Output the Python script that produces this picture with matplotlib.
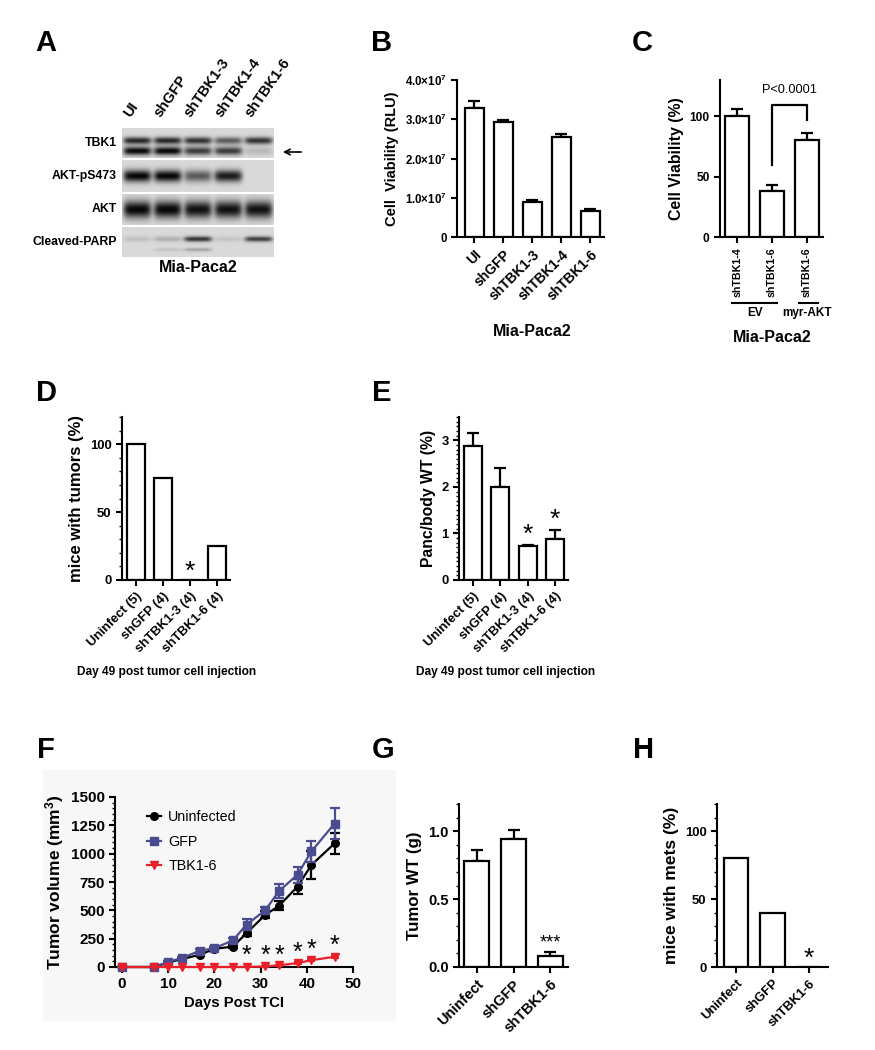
import numpy as np
import matplotlib
matplotlib.use('Agg')
import matplotlib.pyplot as plt
from matplotlib.ticker import MultipleLocator
from matplotlib.patches import Rectangle
from matplotlib.lines import Line2D

plt.rcParams['font.family'] = ['Liberation Sans', 'DejaVu Sans']
plt.rcParams['mathtext.fontset'] = 'custom'
plt.rcParams['mathtext.rm'] = 'Liberation Sans:bold'
plt.rcParams['mathtext.bf'] = 'Liberation Sans:bold'
plt.rcParams['mathtext.it'] = 'Liberation Sans:bold'
plt.rcParams['mathtext.default'] = 'rm'

# ---- A: western blot (band intensities per lane) ----
lanes = ['UI', 'shGFP', 'shTBK1-3', 'shTBK1-4', 'shTBK1-6']
blot_rows = ['TBK1', 'AKT-pS473', 'AKT', 'Cleaved-PARP']
tbk1_upper = [0.85, 0.85, 0.8, 0.6, 0.8]
tbk1_lower = [1.0, 1.0, 0.75, 0.75, 0.15]
akt_ps473 = [1.0, 1.0, 0.6, 0.9, 0.0]
akt_total = [1.0, 1.0, 0.95, 0.95, 0.95]
parp_upper = [0.12, 0.2, 0.8, 0.1, 0.75]
parp_lower = [0.0, 0.1, 0.25, 0.0, 0.0]

# ---- B ----
b_labels = ['UI', 'shGFP', 'shTBK1-3', 'shTBK1-4', 'shTBK1-6']
b_vals = [3.28e7, 2.92e7, 0.88e7, 2.56e7, 0.66e7]
b_err = [0.18e7, 0.07e7, 0.07e7, 0.07e7, 0.05e7]

# ---- C ----
c_labels = ['shTBK1-4', 'shTBK1-6', 'shTBK1-6']
c_vals = [100, 38, 80]
c_err = [6, 5, 6]

# ---- D / E ----
de_labels = ['Uninfect (5)', 'shGFP (4)', 'shTBK1-3 (4)', 'shTBK1-6 (4)']
d_vals = [100, 75, 0, 25]
e_vals = [2.88, 2.0, 0.73, 0.88]
e_err = [0.28, 0.4, 0.03, 0.2]

# ---- F ----
f_days = [0, 7, 10, 13, 17, 20, 24, 27, 31, 34, 38, 41, 46]
f_uninf = [0, 0, 40, 70, 110, 160, 180, 300, 460, 540, 710, 900, 1090]
f_uninf_err = [0, 0, 10, 10, 15, 15, 15, 30, 30, 40, 70, 120, 90]
f_gfp = [0, 0, 45, 80, 145, 165, 235, 375, 500, 670, 815, 1020, 1265]
f_gfp_err = [0, 0, 10, 10, 15, 15, 20, 50, 30, 60, 70, 90, 135]
f_tbk = [0, 0, 0, 0, 0, 0, 0, 0, 5, 15, 35, 60, 90]
f_tbk_err = [0, 0, 0, 0, 0, 0, 0, 0, 3, 5, 8, 10, 12]
f_star_days = [27, 31, 34, 38, 41, 46]
f_star_y = [95, 95, 95, 125, 155, 190]

# ---- G / H ----
gh_labels = ['Uninfect', 'shGFP', 'shTBK1-6']
g_vals = [0.78, 0.94, 0.08]
g_err = [0.08, 0.07, 0.03]
h_vals = [80, 40, 0]

W, H = 875, 1050
fig = plt.figure(figsize=(8.75, 10.5), dpi=100)


def px_axes(l, t, r, b):
    return fig.add_axes([l / W, 1 - b / H, (r - l) / W, (b - t) / H])


def ftext(x, y, s, **kw):
    fig.text(x / W, 1 - y / H, s, **kw)


def style(ax, tick_fs=9):
    for s in ['top', 'right']:
        ax.spines[s].set_visible(False)
    for s in ['left', 'bottom']:
        ax.spines[s].set_linewidth(1.5)
    ax.tick_params(direction='out', width=1.5, length=4, labelsize=tick_fs)
    ax.tick_params(which='minor', direction='out', width=1.0, length=2.5)
    for t in ax.get_yticklabels() + ax.get_xticklabels():
        t.set_fontweight('bold')


def bars(ax, vals, err=None, width=0.66):
    x = np.arange(len(vals))
    ax.bar(x, vals, width, color='white', edgecolor='black', linewidth=1.6, zorder=2)
    if err is not None:
        ax.errorbar(x, vals, yerr=[np.zeros(len(vals)), err], fmt='none', ecolor='black',
                    elinewidth=1.6, capsize=4, capthick=1.6, zorder=1)
    return x


# faint backdrop behind panel F
fig.patches.append(Rectangle((43 / W, 1 - 1020 / H), (395 - 43) / W, (1020 - 770) / H,
                             transform=fig.transFigure, color='#f7f7f7', zorder=-10))

# panel letters
for letter, (lx, ly) in zip('ABCDEFGH', [(46, 43), (382, 43), (642, 43), (46, 393),
                                        (382, 393), (46, 750), (383, 750), (644, 750)]):
    ftext(lx, ly, letter, fontsize=21, fontweight='bold', ha='center', va='center')

# ================= A =================
axA = px_axes(0, 0, W, H)
axA.set_xlim(0, W)
axA.set_ylim(H, 0)
axA.axis('off')
bx0, bx1 = 122, 274
row_ext = [(128, 158), (160, 192), (194, 225), (227, 257)]
row_bands = [
    [(0.42, 0.12, tbk1_upper), (0.77, 0.14, tbk1_lower)],
    [(0.50, 0.19, akt_ps473)],
    [(0.50, 0.28, akt_total)],
    [(0.40, 0.09, parp_upper), (0.76, 0.06, parp_lower)],
]
for (y0, y1), bands, name in zip(row_ext, row_bands, blot_rows):
    hh, ww = 60, 300
    yy = np.linspace(0, 1, hh)[:, None]
    xx = np.linspace(0, 5, ww)[None, :]
    dark = np.zeros((hh, ww))
    for yc, sig, ints in bands:
        for i, v in enumerate(ints):
            dark += v * np.exp(-((xx - (i + 0.5)) / 0.46) ** 6) * np.exp(-((yy - yc) / sig) ** 2)
    img = 0.85 * (1 - 0.97 * np.clip(dark, 0, 1))
    axA.imshow(img, cmap='gray', vmin=0, vmax=1, extent=[bx0, bx1, y1, y0],
               aspect='auto', interpolation='bilinear')
    axA.text(117, (y0 + y1) / 2, name, ha='right', va='center', fontsize=8.8, fontweight='bold')
lane_w = (bx1 - bx0) / len(lanes)
for i, lane in enumerate(lanes):
    axA.text(bx0 + lane_w * (i + 0.5) - 5, 120, lane, rotation=55, rotation_mode='anchor',
             ha='left', va='bottom', fontsize=10.5, fontweight='bold')
axA.annotate('', xy=(280, 152), xytext=(304, 152),
             arrowprops=dict(arrowstyle='->', lw=1.2, color='black'))
axA.text(198, 268, 'Mia-Paca2', ha='center', va='center', fontsize=11.5, fontweight='bold')

# ================= B =================
axB = px_axes(457, 80, 604, 237)
x = bars(axB, b_vals, b_err)
axB.set_xlim(-0.59, 4.48)
axB.set_ylim(0, 4e7)
axB.set_yticks([0, 1e7, 2e7, 3e7, 4e7])
axB.set_yticklabels(['0', '1.0×10$^{7}$', '2.0×10$^{7}$', '3.0×10$^{7}$', '4.0×10$^{7}$'])
axB.set_xticks(x)
axB.set_xticklabels(b_labels, rotation=45, ha='right', rotation_mode='anchor', fontsize=10)
axB.set_ylabel('Cell  Viability (RLU)', fontsize=10.5, fontweight='bold', labelpad=4)
style(axB, 8.3)
for t in axB.get_xticklabels():
    t.set_fontsize(10)
ftext(532, 331, 'Mia-Paca2', ha='center', va='center', fontsize=11.5, fontweight='bold')

# ================= C =================
axC = px_axes(720, 80, 823, 237)
x = bars(axC, c_vals, c_err, width=0.69)
axC.set_xlim(-0.49, 2.46)
axC.set_ylim(0, 130)
axC.set_yticks([0, 50, 100])
axC.set_xticks(x)
axC.set_xticklabels(c_labels, rotation=90)
axC.set_ylabel('Cell Viability (%)', fontsize=11.4, fontweight='bold', labelpad=4)
style(axC, 8.6)
for t in axC.get_xticklabels():
    t.set_fontsize(7.7)
axC.plot([1, 1, 2, 2], [60, 109, 109, 97], color='black', lw=1.6, clip_on=False)
axC.text(1.51, 122, 'P<0.0001', ha='center', va='center', fontsize=9.2)
tr = axC.get_xaxis_transform()
axC.plot([-0.14, 1.14], [-0.42, -0.42], color='black', lw=1.5, transform=tr, clip_on=False)
axC.plot([1.77, 2.31], [-0.42, -0.42], color='black', lw=1.5, transform=tr, clip_on=False)
axC.text(0.5, -0.485, 'EV', transform=tr, ha='center', va='center', fontsize=8.5, fontweight='bold')
axC.text(2.0, -0.485, 'myr-AKT', transform=tr, ha='center', va='center', fontsize=8.5, fontweight='bold')
ftext(772, 338, 'Mia-Paca2', ha='center', va='center', fontsize=11.5, fontweight='bold')

# ================= D =================
axD = px_axes(122, 417, 230, 580)
x = bars(axD, d_vals, width=0.66)
axD.set_xlim(-0.52, 3.48)
axD.set_ylim(0, 120)
axD.set_yticks([0, 50, 100])
axD.yaxis.set_minor_locator(MultipleLocator(10))
axD.set_xticks(x)
axD.set_xticklabels(de_labels, rotation=45, ha='right', rotation_mode='anchor', fontsize=9)
axD.set_ylabel('mice with tumors (%)', fontsize=12, fontweight='bold', labelpad=4)
style(axD, 9.4)
axD.text(2, -3, '*', ha='center', va='bottom', fontsize=19)
ftext(167, 672, 'Day 49 post tumor cell injection', ha='center', va='center',
      fontsize=8.6, fontweight='bold')

# ================= E =================
axE = px_axes(459, 417, 568, 580)
x = bars(axE, e_vals, e_err, width=0.66)
axE.set_xlim(-0.51, 3.47)
axE.set_ylim(0, 3.5)
axE.set_yticks([0, 1, 2, 3])
axE.yaxis.set_minor_locator(MultipleLocator(0.1))
axE.set_xticks(x)
axE.set_xticklabels(de_labels, rotation=45, ha='right', rotation_mode='anchor', fontsize=9)
axE.set_ylabel('Panc/body WT (%)', fontsize=11.3, fontweight='bold', labelpad=4)
style(axE, 9.4)
axE.text(2, 0.72, '*', ha='center', va='bottom', fontsize=19)
axE.text(3, 1.04, '*', ha='center', va='bottom', fontsize=19)
ftext(506, 672, 'Day 49 post tumor cell injection', ha='center', va='center',
      fontsize=8.6, fontweight='bold')

# ================= F =================
axF = px_axes(115, 797, 353, 967)
purple = '#4b4b8f'
red = '#e8202a'
axF.errorbar(f_days, f_uninf, yerr=f_uninf_err, color='black', marker='o', ms=5.5,
             lw=1.6, capsize=3.5, capthick=1.6, elinewidth=1.6,
             clip_on=False, zorder=3)
axF.errorbar(f_days, f_gfp, yerr=f_gfp_err, color=purple, marker='s', ms=5.5,
             lw=1.6, capsize=3.5, capthick=1.6, elinewidth=1.6,
             clip_on=False, zorder=4)
axF.errorbar(f_days, f_tbk, yerr=f_tbk_err, color=red, marker='v', ms=6,
             lw=1.6, capsize=3, capthick=1.4, elinewidth=1.4,
             clip_on=False, zorder=5)
for d, sy in zip(f_star_days, f_star_y):
    axF.text(d, sy, '*', ha='center', va='center', fontsize=18)
axF.set_xlim(-1.5, 50)
axF.set_ylim(0, 1500)
axF.set_xticks(range(0, 51, 10))
axF.set_yticks(range(0, 1501, 250))
axF.yaxis.set_minor_locator(MultipleLocator(50))
axF.set_xlabel('Days Post TCI', fontsize=10.7, fontweight='bold', labelpad=3)
axF.set_ylabel('Tumor volume (mm$^{3}$)', fontsize=12.5, fontweight='bold', labelpad=3)
axF.set_facecolor('none')
style(axF, 11)
handles = [Line2D([], [], color='black', marker='o', ms=5.5, lw=1.6),
           Line2D([], [], color=purple, marker='s', ms=5.5, lw=1.6),
           Line2D([], [], color=red, marker='v', ms=6, lw=1.6)]
axF.legend(handles, ['Uninfected', 'GFP', 'TBK1-6'], loc='upper left',
           bbox_to_anchor=(0.08, 1.0), frameon=False, fontsize=10.3,
           handlelength=1.0, handletextpad=0.5, labelspacing=0.75)

# ================= G =================
axG = px_axes(459, 804, 568, 967)
x = bars(axG, g_vals, g_err, width=0.68)
axG.set_xlim(-0.49, 2.49)
axG.set_ylim(0, 1.2)
axG.set_yticks([0.0, 0.5, 1.0])
axG.set_yticklabels(['0.0', '0.5', '1.0'])
axG.yaxis.set_minor_locator(MultipleLocator(0.1))
axG.set_xticks(x)
axG.set_xticklabels(gh_labels, rotation=45, ha='right', rotation_mode='anchor', fontsize=10.5)
axG.set_ylabel('Tumor WT (g)', fontsize=12.2, fontweight='bold', labelpad=4)
style(axG, 10.5)
axG.text(2, 0.115, '***', ha='center', va='bottom', fontsize=13)

# ================= H =================
axH = px_axes(717, 804, 828, 967)
x = bars(axH, h_vals, width=0.68)
axH.set_xlim(-0.52, 2.52)
axH.set_ylim(0, 120)
axH.set_yticks([0, 50, 100])
axH.yaxis.set_minor_locator(MultipleLocator(10))
axH.set_xticks(x)
axH.set_xticklabels(gh_labels, rotation=45, ha='right', rotation_mode='anchor', fontsize=10.5)
axH.set_ylabel('mice with mets (%)', fontsize=12.5, fontweight='bold', labelpad=4)
style(axH, 9.4)
axH.text(2, -3, '*', ha='center', va='bottom', fontsize=19)

fig.savefig('out.png', dpi=100)
